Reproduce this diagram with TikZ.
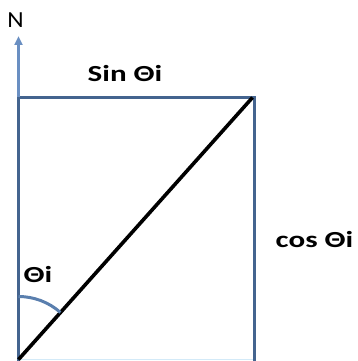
\documentclass[tikz,border=0pt]{standalone}
\usepackage{fontspec}
\setmainfont{Carlito}
\usetikzlibrary{arrows.meta}
\definecolor{edgeblue}{HTML}{44648F}
\definecolor{arrowblue}{HTML}{6A8FC2}
\definecolor{arcblue}{HTML}{5A7FAE}
\definecolor{paleblue}{HTML}{D3EAF8}
\tikzset{
  lbl/.style={font=\bfseries\fontsize{23}{25}\selectfont, xscale=1.35, inner sep=0pt},
  edge/.style={draw=edgeblue, line width=3pt},
}
\begin{document}
\begin{tikzpicture}[x=1pt,y=-1pt]
\useasboundingbox (0,0) rectangle (358,361);
\coordinate (bl) at (18.5,359.5);
\coordinate (tl) at (18.5,97);
\coordinate (tr) at (254,97);
\coordinate (br) at (254,359.5);
\coordinate (ntip) at (18.5,36);
\coordinate (arcstart) at (18.5,296.5);
% rectangle
\draw[draw=paleblue, line width=1.2pt] (bl) -- (br);
\draw[edge, line cap=rect] (bl) -- (tl) -- (tr) -- (br);
% arrow N
\draw[draw=arrowblue, line width=3.2pt, -{Triangle[length=9pt,width=8pt]}] (tl) -- (ntip);
\node[font=\fontsize{23}{25}\selectfont, xscale=1.1, inner sep=0pt] (n) at (15.5,20) {N};
% diagonal
\draw[black, line width=3.6pt] (bl) -- (252.5,97.5);
% arc
\draw[draw=arcblue, line width=3pt] (arcstart) arc[start angle=-90, end angle=-48.3, radius=63];
% labels
\node[lbl] (sin) at (125,73.5) {Sin Θi};
\node[lbl] (cos) at (314.5,239.5) {cos Θi};
\node[lbl] (th) at (38,275) {Θi};
\end{tikzpicture}
\end{document}
